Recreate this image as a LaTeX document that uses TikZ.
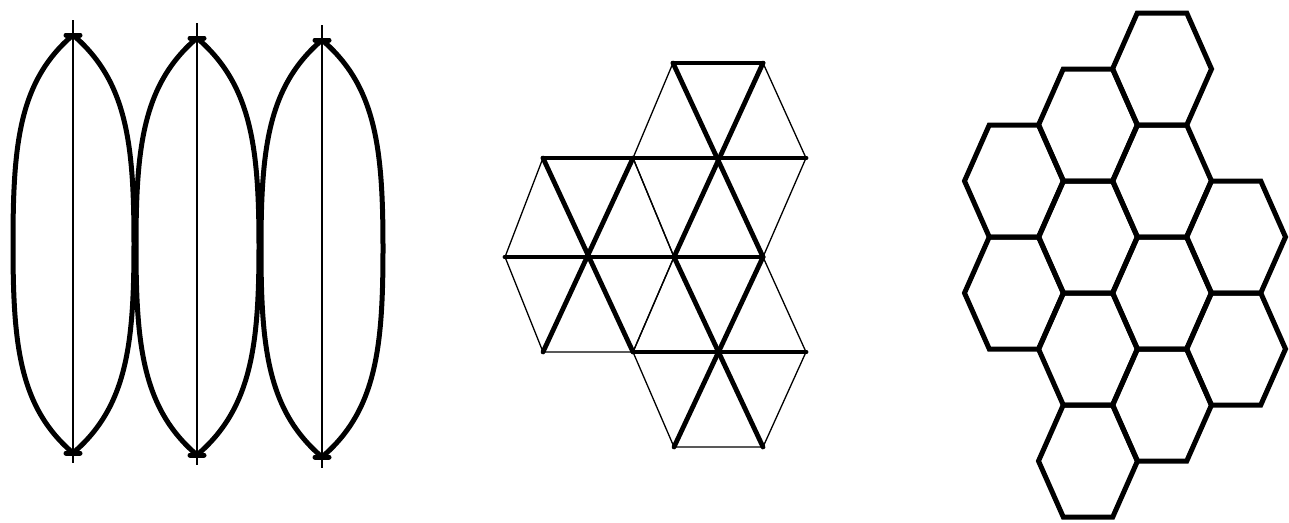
\documentclass[tikz,border=0pt]{standalone}
\usetikzlibrary{
    arrows.meta,
    positioning
}

\begin{document}
\begin{tikzpicture}[
    x=1pt,
    y=-1pt,
    lensedge/.style={
        line width=5pt,
        draw=black
    },
    lenscap/.style={
        line width=5pt,
        line cap=round,
        draw=black
    },
    axisline/.style={
        line width=1.4pt,
        draw=black
    },
    thinedge/.style={
        line width=1.3pt,
        line join=round,
        draw=black
    },
    thickedge/.style={
        line width=4.8pt,
        line cap=round,
        draw=black
    },
    latticedot/.style={
        circle,
        fill=black,
        inner sep=0pt,
        minimum size=4pt
    },
    hexedge/.style={
        line width=5pt,
        draw=black
    }
]

\useasboundingbox (0,0) rectangle (1289,522);

% ==========================================================
% Left panel: three lenses on their axes
% ==========================================================
\coordinate (axis1top) at (73,20);
\coordinate (axis1bot) at (73,463);
\coordinate (axis2top) at (197,23);
\coordinate (axis2bot) at (197,465);
\coordinate (axis3top) at (322,25);
\coordinate (axis3bot) at (322,468);

\coordinate (lens1top) at (73,35);
\coordinate (lens1bot) at (73,453);
\coordinate (lens1west) at (13,244);
\coordinate (lens1east) at (134,244);

\coordinate (lens2top) at (197,38);
\coordinate (lens2bot) at (197,455);
\coordinate (lens2west) at (136,246.5);
\coordinate (lens2east) at (259,246.5);

\coordinate (lens3top) at (322,40);
\coordinate (lens3bot) at (322,457);
\coordinate (lens3west) at (261,248.5);
\coordinate (lens3east) at (383,248.5);

\draw[axisline] (axis1top) -- (axis1bot);
\draw[axisline] (axis2top) -- (axis2bot);
\draw[axisline] (axis3top) -- (axis3bot);

\draw[lensedge]
    (lens1top) .. controls +(-54,46) and +(0,-100) .. (lens1west)
    .. controls +(0,100) and +(-54,-46) .. (lens1bot);
\draw[lensedge]
    (lens1top) .. controls +(54,46) and +(0,-100) .. (lens1east)
    .. controls +(0,100) and +(54,-46) .. (lens1bot);

\draw[lensedge]
    (lens2top) .. controls +(-54,46) and +(0,-100) .. (lens2west)
    .. controls +(0,100) and +(-54,-46) .. (lens2bot);
\draw[lensedge]
    (lens2top) .. controls +(54,46) and +(0,-100) .. (lens2east)
    .. controls +(0,100) and +(54,-46) .. (lens2bot);

\draw[lensedge]
    (lens3top) .. controls +(-54,46) and +(0,-100) .. (lens3west)
    .. controls +(0,100) and +(-54,-46) .. (lens3bot);
\draw[lensedge]
    (lens3top) .. controls +(54,46) and +(0,-100) .. (lens3east)
    .. controls +(0,100) and +(54,-46) .. (lens3bot);

\draw[lenscap] (lens1top) +(-7,0) -- +(7,0);
\draw[lenscap] (lens1bot) +(-7,0) -- +(7,0);
\draw[lenscap] (lens2top) +(-7,0) -- +(7,0);
\draw[lenscap] (lens2bot) +(-7,0) -- +(7,0);
\draw[lenscap] (lens3top) +(-7,0) -- +(7,0);
\draw[lenscap] (lens3bot) +(-7,0) -- +(7,0);

% ==========================================================
% Middle panel: triangular lattice with three stars
% ==========================================================
\coordinate (v04) at (673,63);
\coordinate (v06) at (763,63);

\coordinate (v11) at (543,158);
\coordinate (v13) at (633,158);
\coordinate (v15) at (718,158);
\coordinate (v17) at (806,158);

\coordinate (v20) at (505,257);
\coordinate (v22) at (589,257);
\coordinate (v24) at (674,257);
\coordinate (v26) at (763,257);

\coordinate (v31) at (543,352);
\coordinate (v33) at (633,352);
\coordinate (v35) at (718,352);
\coordinate (v37) at (806,352);

\coordinate (v44) at (674,447);
\coordinate (v46) at (763,447);

\draw[thinedge] (v11) -- (v13) -- (v24) -- (v33) -- (v31) -- (v20) -- cycle;
\draw[thinedge] (v04) -- (v06) -- (v17) -- (v26) -- (v24) -- (v13) -- cycle;
\draw[thinedge] (v24) -- (v26) -- (v37) -- (v46) -- (v44) -- (v33) -- cycle;

\foreach \v in {v04,v06,v11,v13,v17,v20,v26,v31,v33,v37,v44,v46}
    \node[latticedot] at (\v) {};

% star around v22
\draw[thickedge] (v20) -- (v24);
\draw[thickedge] (v11) -- (v33);
\draw[thickedge] (v13) -- (v31);
\draw[thickedge] (v11) -- (v13);

% star around v15
\draw[thickedge] (v13) -- (v17);
\draw[thickedge] (v04) -- (v26);
\draw[thickedge] (v06) -- (v24);
\draw[thickedge] (v04) -- (v06);

% star around v35
\draw[thickedge] (v33) -- (v37);
\draw[thickedge] (v24) -- (v46);
\draw[thickedge] (v26) -- (v44);
\draw[thickedge] (v24) -- (v26);

% ==========================================================
% Right panel: honeycomb of twelve cells
% ==========================================================
\foreach \hx/\hy [count=\i] in {
    1014/181, 1014/293,
    1088/125, 1088/237, 1088/349, 1088/461,
    1162/69, 1162/181, 1162/293, 1162/405,
    1236/237, 1236/349
}{
    \coordinate (hex\i) at (\hx,\hy);
    \draw[hexedge]
        (hex\i) ++(-49.5,0) -- ++(24.75,-56) -- ++(49.5,0)
        -- ++(24.75,56) -- ++(-24.75,56) -- ++(-49.5,0) -- cycle;
}

\end{tikzpicture}
\end{document}
